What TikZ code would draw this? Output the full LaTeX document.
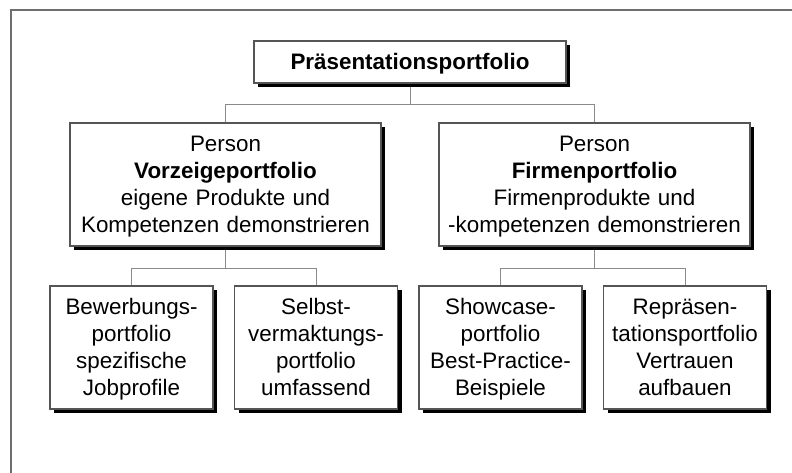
\documentclass[tikz,border=0pt]{standalone}
\usepackage{fontspec}
\setmainfont{Liberation Sans}
\usetikzlibrary{shadows,backgrounds}
\definecolor{boxline}{HTML}{555555}
\definecolor{conn}{HTML}{8A8A8A}
\definecolor{frame}{HTML}{6E6E6E}
\tikzset{
  pbox/.style={draw=boxline, line width=1.2pt, fill=white, align=center,
    inner sep=0pt, font=\fontsize{22.4}{27}\selectfont,
    execute at begin node=\rule{0pt}{23.9pt}, execute at end node=\rule[-8.1pt]{0pt}{8.1pt},
    drop shadow={shadow xshift=4pt, shadow yshift=-4pt, fill=black, opacity=1}},
  topbox/.style={pbox, minimum width=312pt, minimum height=42pt},
  midbox/.style={pbox, minimum width=311pt, minimum height=123pt, text width=305pt},
  lowbox/.style={pbox, minimum width=163pt, minimum height=123pt, text width=160pt},
  connector/.style={draw=conn, line width=1pt},
}
\begin{document}
\begin{tikzpicture}[x=1pt,y=-1pt]
\useasboundingbox (0,0) rectangle (792,473);
\draw[frame, line width=2pt] (11,473) -- (11,10) -- (792,10);
\node[topbox] (top) at (410,62) {\textbf{Präsentationsportfolio}};
\node[midbox] (lm) at (225.5,184.5) {Person\\\textbf{Vorzeigeportfolio}\\eigene Produkte und\\Kompetenzen demonstrieren};
\node[midbox] (rm) at (594.5,184.5) {Person\\\textbf{Firmenportfolio}\\Firmenprodukte und\\-kompetenzen demonstrieren};
\node[lowbox] (b1) at (131.5,347.5) {Bewerbungs-\\portfolio\\spezifische\\Jobprofile};
\node[lowbox] (b2) at (316,347.5) {Selbst-\\vermaktungs-\\portfolio\\umfassend};
\node[lowbox] (b3) at (500.5,347.5) {Showcase-\\portfolio\\Best-Practice-\\Beispiele};
\node[lowbox] (b4) at (685,347.5) {Repräsen-\\tationsportfolio\\Vertrauen\\aufbauen};
\coordinate (bar0) at (410,105);
\coordinate (bar1) at (225.5,268);
\coordinate (bar2) at (594.5,268);
\begin{scope}[on background layer]
\draw[connector] (top.south) -- (bar0) -| (lm.north);
\draw[connector] (bar0) -| (rm.north);
\draw[connector] (lm.south) -- (bar1) -| (b1.north);
\draw[connector] (bar1) -| (b2.north);
\draw[connector] (rm.south) -- (bar2) -| (b3.north);
\draw[connector] (bar2) -| (b4.north);
\end{scope}
\end{tikzpicture}
\end{document}
